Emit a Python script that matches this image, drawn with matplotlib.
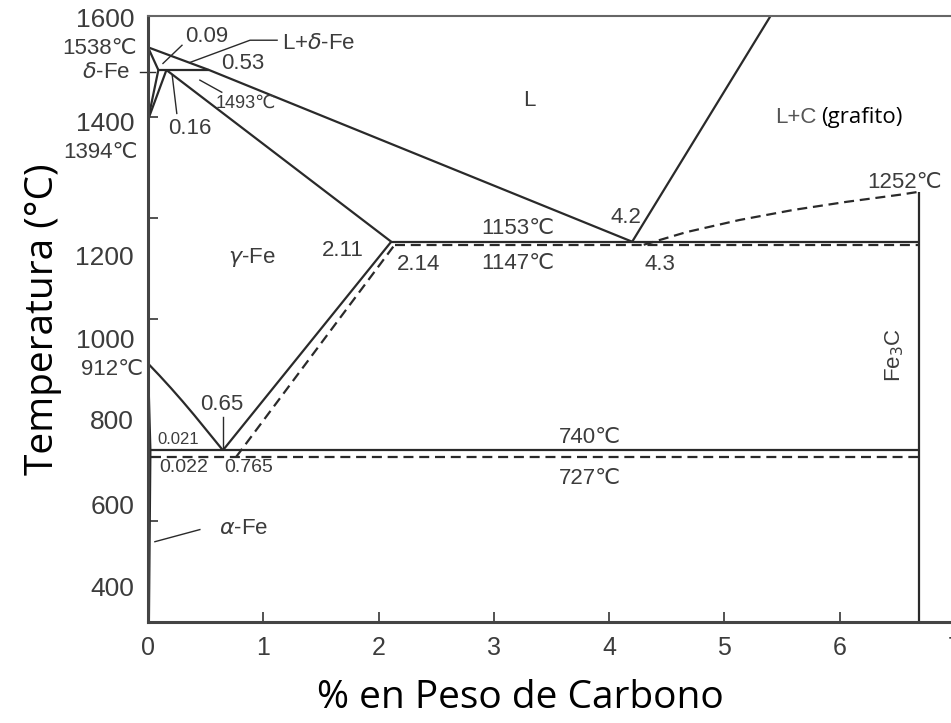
import matplotlib
matplotlib.use("Agg")
import matplotlib.pyplot as plt

plt.rcParams['font.family'] = ['Liberation Sans', 'DejaVu Sans']
plt.rcParams['mathtext.fontset'] = 'dejavusans'

# --- Phase boundaries: (wt% C, temperature C) ---
# solid lines (Fe-graphite, stable system)
liq_x, liq_t = [0, 0.53, 4.2], [1538, 1493, 1153]
delta_sol_x, delta_sol_t = [0, 0.09], [1538, 1493]
peritectic_x, peritectic_t = [0.09, 0.53], [1493, 1493]
nh_x, nh_t = [0, 0.09], [1394, 1493]
nj_x, nj_t = [0, 0.16], [1394, 1493]
solidus_x, solidus_t = [0.16, 2.11], [1493, 1153]
eut_x, eut_t = [2.11, 6.69], [1153, 1153]
graphite_liq_x, graphite_liq_t = [4.2, 5.4], [1153, 1600]
gs_x = [0, 0.1, 0.2, 0.3, 0.4, 0.5, 0.65]
gs_t = [912, 888, 863, 837, 810, 782, 740]
acm_x, acm_t = [0.65, 2.11], [740, 1153]
eutectoid_x, eutectoid_t = [0.021, 6.69], [740, 740]
alpha_x, alpha_t = [0, 0.021, 0.008], [912, 740, 400]
fe3c_x, fe3c_t = [6.69, 6.69], [1252, 400]

# dashed lines (Fe-Fe3C, metastable system)
eut_d_x, eut_d_t = [2.14, 6.69], [1147, 1147]
acm_d_x, acm_d_t = [0.765, 2.14], [727, 1147]
eutectoid_d_x, eutectoid_d_t = [0.022, 6.69], [727, 727]
cd_x = [4.3, 4.67, 5.13, 5.6, 6.06, 6.52, 6.69]
cd_t = [1147, 1172, 1196, 1216, 1232, 1246, 1252]

x_ticks = [0, 1, 2, 3, 4, 5, 6, 7]
y_tick_marks = [600, 800, 1000, 1200, 1400]
y_labels = ['1600', '1400', '1200', '1000', '800', '600', '400']
y_label_pos = [1597, 1392, 1126, 962, 800, 632, 470]

LC = '#2a2a2a'
TC = '#3c3c3c'

fig = plt.figure(figsize=(9.51, 7.23), dpi=100)
ax = fig.add_axes([0.1556, 0.1397, 0.8486, 0.8382])
ax.set_xlim(0, 7)
ax.set_ylim(400, 1600)

solid = [(liq_x, liq_t), (delta_sol_x, delta_sol_t), (peritectic_x, peritectic_t),
         (nh_x, nh_t), (nj_x, nj_t), (solidus_x, solidus_t), (eut_x, eut_t),
         (graphite_liq_x, graphite_liq_t), (gs_x, gs_t), (acm_x, acm_t),
         (eutectoid_x, eutectoid_t), (alpha_x, alpha_t), (fe3c_x, fe3c_t)]
for xs, ts in solid:
    ax.plot(xs, ts, color=LC, lw=1.6, solid_capstyle='butt', solid_joinstyle='round')

dashed = [(eut_d_x, eut_d_t), (acm_d_x, acm_d_t), (eutectoid_d_x, eutectoid_d_t), (cd_x, cd_t)]
for xs, ts in dashed:
    ax.plot(xs, ts, color=LC, lw=1.6, linestyle=(0, (4.5, 2.6)))

# leader lines
leaders = [([0.13, 0.295], [1506, 1542]),
           ([0.364, 0.885, 1.12], [1508, 1552, 1552]),
           ([0.45, 0.64], [1473, 1449]),
           ([0.21, 0.25], [1483, 1407]),
           ([-0.07, 0.06], [1489, 1489]),
           ([0.65, 0.65], [806, 745]),
           ([0.06, 0.45], [559, 583])]
for xs, ts in leaders:
    ax.plot(xs, ts, color=LC, lw=1.0, clip_on=False)


def label(x, t, s, size=16, ha='center', **kw):
    ax.text(x, t, s, fontsize=size, ha=ha, va='center', color=TC, **kw)


label(0.51, 1560, '0.09')
label(1.16, 1546, r'L+$\delta$-Fe', ha='left')
label(0.82, 1506, '0.53')
label(0.85, 1427, '1493℃', size=13)
label(0.364, 1378, '0.16')
label(-0.095, 1536, '1538℃', ha='right')
label(-0.156, 1489, r'$\delta$-Fe', ha='right')
label(-0.087, 1330, '1394℃', ha='right')
label(-0.043, 899, '912℃', ha='right')
label(3.31, 1433, 'L')
ax.text(5.44, 1398, 'L+C', fontsize=16, ha='left', va='center', color='#555555')
ax.text(5.84, 1398, '(grafito)', fontsize=16, ha='left', va='center', color='black',
        family='Open Sans')
label(6.56, 1271, '1252℃')
label(4.15, 1200, '4.2')
label(3.21, 1180, '1153℃')
label(3.21, 1109, '1147℃')
label(4.44, 1107, '4.3')
label(1.69, 1136, '2.11')
label(2.35, 1107, '2.14')
label(0.90, 1121, r'$\gamma$-Fe')
label(6.48, 929, r'Fe$_3$C', size=16, rotation=90)
label(0.64, 830, '0.65')
label(0.26, 761, '0.021', size=12)
label(0.31, 705, '0.022', size=14)
label(0.87, 705, '0.765', size=14)
label(3.83, 766, '740℃')
label(3.83, 685, '727℃')
label(0.83, 585, r'$\alpha$-Fe')

# axes styling
for side in ['left', 'bottom']:
    ax.spines[side].set_linewidth(2.2)
    ax.spines[side].set_color('#444444')
ax.spines['top'].set_linewidth(1.5)
ax.spines['top'].set_color('#666666')
ax.spines['right'].set_visible(False)

ax.set_xticks(x_ticks)
ax.set_xticklabels([str(v) for v in x_ticks])
ax.tick_params(axis='x', direction='in', length=7, width=1.3, color='#444444',
               labelsize=18, labelcolor=TC, pad=10)
ax.set_yticks(y_label_pos)
ax.set_yticklabels(y_labels)
ax.tick_params(axis='y', which='major', length=0, labelsize=19, labelcolor=TC, pad=10)
ax.set_yticks(y_tick_marks, minor=True)
ax.tick_params(axis='y', which='minor', direction='in', length=7, width=1.3, color='#444444')

ax.set_xlabel('% en Peso de Carbono', fontsize=28, family='Open Sans', labelpad=14)
ax.xaxis.label.set_x(0.461)
ax.set_ylabel('Temperatura (°C)', fontsize=28, family='Open Sans', labelpad=10)

fig.savefig('out.png', dpi=100)
